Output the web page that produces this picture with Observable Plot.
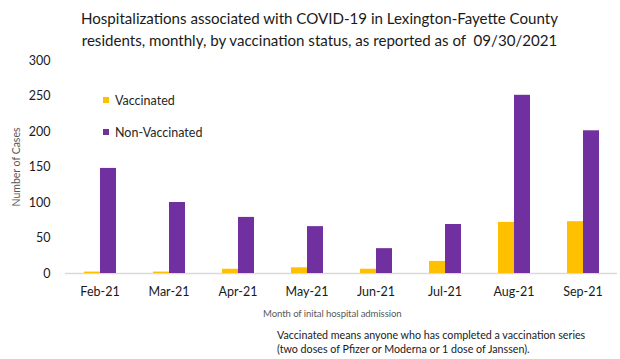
<!DOCTYPE html>
<html><head><meta charset="utf-8">
<script src="https://cdn.jsdelivr.net/npm/d3@7"></script>
<script src="https://cdn.jsdelivr.net/npm/@observablehq/plot@0.6"></script>
<style>
body{margin:0;background:#fff;font-family:Lato,"Open Sans",sans-serif;}
#wrap{position:relative;width:620px;height:359px;overflow:hidden;background:#fff;}
#title{height:50px;box-sizing:border-box;padding-top:7px;text-align:center;font-size:15.1px;line-height:22px;color:#1a1a1a;padding-left:19px;}
#chart{height:255px;}
#chart svg{display:block;}
#xlabel{position:absolute;left:263px;top:306px;font-size:9.6px;letter-spacing:-0.1px;line-height:16px;color:#595959;white-space:nowrap;}
#note{position:absolute;left:277px;top:328px;font-size:10.7px;line-height:14px;color:#1a1a1a;white-space:nowrap;}
#ylabel{position:absolute;left:16px;top:167px;transform:translate(-50%,-50%) rotate(-90deg);font-size:10.5px;color:#595959;white-space:nowrap;}
#legend{position:absolute;left:103px;top:92px;font-size:12.5px;color:#262626;}
#legend div{display:flex;align-items:center;height:16px;margin-bottom:16px;}
#legend span.sw{display:inline-block;width:6px;height:6px;margin-right:6px;}
</style></head><body>
<div id="wrap">
<div id="title">Hospitalizations associated with COVID-19 in Lexington-Fayette County<br>residents, monthly, by vaccination status, as reported as of&nbsp; 09/30/2021</div>
<div id="chart"></div>
<div id="xlabel">Month of inital hospital admission</div>
<div id="note">Vaccinated means anyone who has completed a vaccination series<br>(two doses of Pfizer or Moderna or 1 dose of Janssen).</div>
<div id="ylabel">Number of Cases</div>
<div id="legend"></div>
</div>
<script>
const months = ["Feb-21","Mar-21","Apr-21","May-21","Jun-21","Jul-21","Aug-21","Sep-21"];
const vaccinated = [2, 2, 6, 8, 6, 17, 72, 73];
const nonVaccinated = [148, 100, 79, 66, 35, 69, 251, 201];
const series = ["Vaccinated","Non-Vaccinated"];
const colors = ["#FFC000","#7030A0"];
const yTicks = [0, 50, 100, 150, 200, 250, 300];

const data = months.flatMap((m, i) => [
  {month: m, status: series[0], value: vaccinated[i]},
  {month: m, status: series[1], value: nonVaccinated[i]}
]);

const plot = Plot.plot({
  width: 620, height: 255,
  marginLeft: 62, marginRight: 0, marginTop: 10, marginBottom: 32,
  style: {fontFamily: "Lato, 'Open Sans', sans-serif", fontSize: "12.5px", color: "#1a1a1a", background: "transparent"},
  fx: {domain: months, padding: 0, label: null, axis: "bottom", tickSize: 0, tickPadding: 14},
  x: {domain: series, axis: null, paddingInner: 0, paddingOuter: 1.1},
  y: {domain: [0, 300], ticks: yTicks, tickSize: 0, tickPadding: 15, label: null},
  color: {domain: series, range: colors},
  marks: [
    Plot.ruleY([0], {stroke: "#d9d9d9", strokeWidth: 1.5}),
    Plot.barY(data, {fx: "month", x: "status", y: "value", fill: "status"})
  ]
});
document.getElementById("chart").appendChild(plot);

const legend = document.getElementById("legend");
series.forEach((s, i) => {
  const row = document.createElement("div");
  const sw = document.createElement("span");
  sw.className = "sw";
  sw.style.background = colors[i];
  row.appendChild(sw);
  row.appendChild(document.createTextNode(s));
  legend.appendChild(row);
});
</script>
</body></html>
